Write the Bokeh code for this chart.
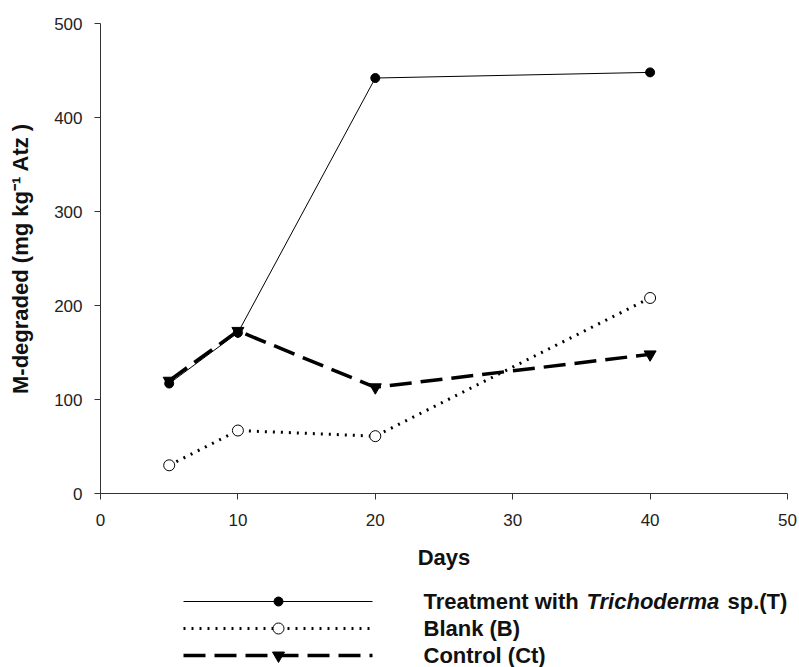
from bokeh.plotting import figure
from bokeh.layouts import column
from bokeh.models import Range1d, FixedTicker
from bokeh.core.properties import value
from bokeh.embed import file_html
from bokeh.resources import INLINE

# ---- data ----
days = [5, 10, 20, 40]
treatment = [117, 171, 442, 448]
blank = [30, 67, 61, 208]
control = [120, 173, 113, 148]
x_ticks = [0, 10, 20, 30, 40, 50]
y_ticks = [0, 100, 200, 300, 400, 500]
legend_labels = ["Treatment with", "Trichoderma", "sp.(T)", "Blank (B)", "Control (Ct)"]

FONT = value("Liberation Sans")
W = 797
H1 = 580
H2 = 87
FL, FR = 100, 787   # frame left / right in px

p = figure(width=W, height=H1, output_backend="svg", toolbar_location=None,
           x_range=Range1d(0, 50), y_range=Range1d(0, 500),
           min_border_left=FL, min_border_right=W - FR, min_border_top=23, min_border_bottom=87)
p.outline_line_color = None
p.grid.visible = False
p.background_fill_color = "white"
p.border_fill_color = "white"

for ax in (p.xaxis[0], p.yaxis[0]):
    ax.axis_line_color = "#333333"
    ax.major_tick_line_color = "#333333"
    ax.minor_tick_line_color = None
    ax.major_tick_out = 6
    ax.major_tick_in = 0
    ax.major_label_text_font = "Liberation Sans"
    ax.major_label_text_font_size = "17px"
    ax.major_label_text_color = "#222222"
    ax.axis_label_text_font = "Liberation Sans"
    ax.axis_label_text_font_style = "bold"
    ax.axis_label_text_font_size = "22px"
    ax.axis_label_text_color = "#111111"

p.xaxis.ticker = FixedTicker(ticks=x_ticks)
p.yaxis.ticker = FixedTicker(ticks=y_ticks)
p.xaxis.major_label_standoff = 14
p.yaxis.major_label_standoff = 12
p.xaxis.axis_label = "Days"
p.xaxis.axis_label_standoff = 16
p.yaxis.axis_label = "M-degraded (mg kg\u207b\u00b9 Atz )"
p.yaxis.axis_label_standoff = 18

# series
p.line(days, treatment, line_color="black", line_width=1)
p.scatter(days, treatment, marker="circle", size=9, fill_color="black", line_color="black")

p.line(days, blank, line_color="black", line_width=3, line_dash="2 6")
p.scatter(days, blank, marker="circle", size=11, fill_color="white", line_color="black", line_width=1)

p.line(days, control, line_color="black", line_width=3.5, line_dash="22 9")
p.scatter(days, control, marker="inverted_triangle", size=12, fill_color="black", line_color="black")

# ---- legend panel (pixel coordinates, frames aligned with main plot) ----
q = figure(width=W, height=H2, output_backend="svg", toolbar_location=None,
           x_range=Range1d(FL, FR), y_range=Range1d(0, H2),
           min_border_left=FL, min_border_right=W - FR, min_border_top=0, min_border_bottom=0)
q.outline_line_color = None
q.grid.visible = False
q.axis.visible = False

rows = [H2 - 21, H2 - 48, H2 - 75]
lx0, lx1, lm = 183, 372, 278
tx = 423

q.line([lx0, lx1], [rows[0], rows[0]], line_color="black", line_width=1)
q.scatter([lm], [rows[0]], marker="circle", size=9, fill_color="black", line_color="black")
q.line([lx0, lx1], [rows[1], rows[1]], line_color="black", line_width=3, line_dash="2 6")
q.scatter([lm], [rows[1]], marker="circle", size=11, fill_color="white", line_color="black")
q.line([lx0, lx1], [rows[2], rows[2]], line_color="black", line_width=3.5, line_dash="22 9")
q.scatter([lm], [rows[2]], marker="inverted_triangle", size=12, fill_color="black", line_color="black")

common = dict(text_font=FONT, text_font_size="22px", text_baseline="middle",
              text_align="left", text_color="#111111")
q.text(x=[tx], y=[rows[0]], text=[legend_labels[0]], text_font_style="bold", **common)
q.text(x=[tx + 163], y=[rows[0]], text=[legend_labels[1]], text_font_style="bold italic", **common)
q.text(x=[tx + 304], y=[rows[0]], text=[legend_labels[2]], text_font_style="bold", **common)
q.text(x=[tx], y=[rows[1]], text=[legend_labels[3]], text_font_style="bold", **common)
q.text(x=[tx], y=[rows[2]], text=[legend_labels[4]], text_font_style="bold", **common)

layout = column(p, q, spacing=0)
open("out.html", "w").write(file_html(layout, INLINE))
